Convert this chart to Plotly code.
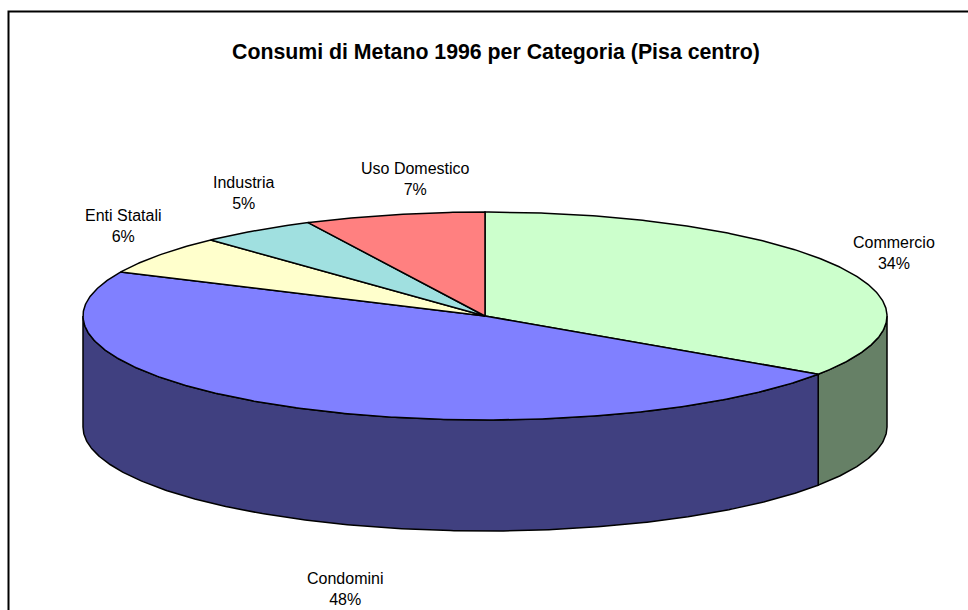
## 3D-looking pie of methane consumption by category

import numpy as np
import plotly.graph_objects as go

# Data
categories = ['Commercio', 'Condomini', 'Enti Statali', 'Industria', 'Uso Domestico']
shares = [34.45, 47.5, 6.1, 4.7, 7.25]
top_colors = ['#CCFFCC', '#8080FF', '#FFFFCC', '#A0E0E0', '#FF8080']
side_colors = ['#668066', '#404080', '#808066', '#507070', '#804040']
label_x = [894, 345, 123, 243, 415]
label_y = [253, 589, 226, 193, 179]

WIDTH, HEIGHT = 968, 610
CX, CY, RX, RY, DEPTH = 485, 316, 402, 104, 111


def rim(a, b, drop=0):
    # points on the ellipse, angle measured clockwise from the top
    t = np.radians(np.linspace(a, b, max(int(abs(b - a) * 2), 2)))
    return CX + RX * np.sin(t), CY - RY * np.cos(t) + drop


fig = go.Figure()
edges = np.concatenate([[0], np.cumsum(shares)]) / np.sum(shares) * 360

# Walls first: only the front half of the rim (90-270 degrees) is visible
for name, a, b, color in zip(categories, edges[:-1], edges[1:], side_colors):
    lo, hi = max(a, 90), min(b, 270)
    if lo >= hi:
        continue
    x1, y1 = rim(lo, hi)
    x2, y2 = rim(hi, lo, DEPTH)
    fig.add_trace(go.Scatter(
        x=np.concatenate([x1, x2, x1[:1]]),
        y=np.concatenate([y1, y2, y1[:1]]),
        mode='lines', fill='toself', fillcolor=color,
        line=dict(color='black', width=1.5), name=name, hoverinfo='name',
    ))

# Top face slices
for name, a, b, color in zip(categories, edges[:-1], edges[1:], top_colors):
    x1, y1 = rim(a, b)
    fig.add_trace(go.Scatter(
        x=np.concatenate([[CX], x1, [CX]]),
        y=np.concatenate([[CY], y1, [CY]]),
        mode='lines', fill='toself', fillcolor=color,
        line=dict(color='black', width=1.5), name=name, hoverinfo='name',
    ))

for name, share, x, y in zip(categories, shares, label_x, label_y):
    fig.add_annotation(
        x=x, y=y, text=f'{name}<br>{round(share)}%', showarrow=False,
        font=dict(family='Liberation Sans', size=16, color='black'),
    )

fig.update_layout(
    width=WIDTH, height=HEIGHT,
    margin=dict(l=0, r=0, t=0, b=0),
    paper_bgcolor='white', plot_bgcolor='white',
    showlegend=False,
    xaxis=dict(range=[0, WIDTH], visible=False, fixedrange=True),
    yaxis=dict(range=[HEIGHT, 0], visible=False, fixedrange=True),
    shapes=[dict(type='rect', x0=8.5, y0=11.5, x1=WIDTH + 20, y1=HEIGHT + 20,
                 line=dict(color='black', width=2))],
)
fig.add_annotation(
    x=496, y=52, text='<b>Consumi di Metano 1996 per Categoria (Pisa centro)</b>',
    showarrow=False, font=dict(family='Liberation Sans', size=21.3, color='black'),
)

# Drop the page margin so the figure sits at the window corner
fig.write_html('out.html', post_script="document.body.style.margin='0';",
               config={'displayModeBar': False})
